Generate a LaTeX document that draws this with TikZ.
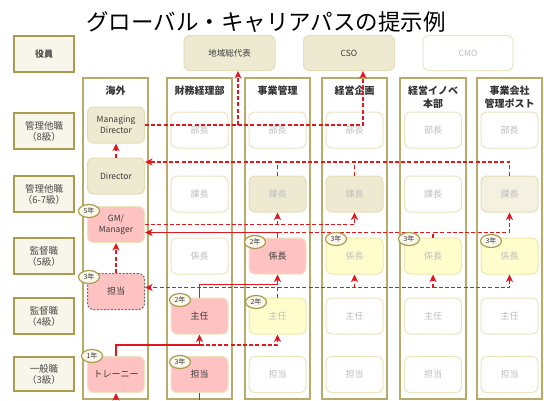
\documentclass[tikz,border=0pt]{standalone}
\usepackage{fontspec}
\setmainfont{Noto Sans CJK JP}
\usepackage{tikz}
\usetikzlibrary{arrows.meta,shapes.geometric}

\definecolor{gradeline}{HTML}{A99C4E}
\definecolor{gradefill}{HTML}{F8F6EA}
\definecolor{gradetext}{HTML}{4A4A4A}
\definecolor{deptline}{HTML}{B6AB6A}
\definecolor{headtext}{HTML}{333333}
\definecolor{postline}{HTML}{ECE4BF}
\definecolor{offtext}{HTML}{BDBDBD}
\definecolor{ontext}{HTML}{3A3A3A}
\definecolor{onfill}{HTML}{FFC2C2}
\definecolor{beigefill}{HTML}{EEEAD2}
\definecolor{beigeline}{HTML}{E5DDB6}
\definecolor{lbeigefill}{HTML}{F4F1E0}
\definecolor{yelfill}{HTML}{FFFDCB}
\definecolor{yelline}{HTML}{EEE7AE}
\definecolor{badgefill}{HTML}{FBF9EE}
\definecolor{pathred}{HTML}{E3161E}
\definecolor{dashgray}{HTML}{6E6E6E}

\begin{document}
\begin{tikzpicture}[x=1pt,y=-1pt,
    grade/.style={draw=gradeline, line width=1.8pt, fill=gradefill, minimum width=60pt, minimum height=36pt, align=center, text=gradetext, font=\fontsize{9.5}{11}\selectfont},
    dept/.style={draw=deptline, line width=1.8pt, fill=white},
    depthead/.style={font=\bfseries\fontsize{10}{12.5}\selectfont, text=headtext, align=center},
    post/.style={draw=postline, line width=1pt, rounded corners=6pt, minimum width=57pt, minimum height=36pt, align=center, inner sep=1pt, font=\fontsize{9}{11}\selectfont},
    postOff/.style={post, fill=white, text=offtext},
    postOn/.style={post, fill=onfill, text=ontext},
    postBeige/.style={post, fill=beigefill, draw=beigeline, text=offtext},
    postYel/.style={post, fill=yelfill, draw=yelline, text=offtext},
    badge/.style={ellipse, draw=gradeline, line width=1.2pt, fill=badgefill, inner sep=0pt, minimum width=21pt, minimum height=13pt, text=ontext, font=\fontsize{7}{8}\selectfont},
    act/.style={draw=pathred, line width=1.3pt, -{Stealth[length=7.5pt,width=7pt,inset=2pt]}},
    actline/.style={draw=pathred, line width=1.3pt},
    alt/.style={act, dash pattern=on 4pt off 2.2pt},
    altline/.style={actline, dash pattern=on 4pt off 2.2pt},
  ]
    \useasboundingbox (0,0) rectangle (544,400);

    % Title
    \node[font=\fontsize{22.5}{24}\selectfont] (title) at (266,22) {グローバル・キャリアパスの提示例};

    % Grade labels
    \node[grade, font=\bfseries\fontsize{9}{11}\selectfont] (gYakuin) at (44,54) {役員};
    \node[grade] (g8) at (44,131) {管理他職\\（8級）};
    \node[grade] (g67) at (44,194) {管理他職\\（6-7級）};
    \node[grade] (g5) at (44,256) {監督職\\（5級）};
    \node[grade] (g4) at (44,316) {監督職\\（4級）};
    \node[grade, minimum height=34pt] (g3) at (44,374) {一般職\\（3級）};

    % Executive posts
    \node[postBeige, minimum width=91pt, minimum height=35pt, text=ontext, font=\fontsize{8.5}{10}\selectfont] (chiiki) at (229.5,53) {地域総代表};
    \node[postBeige, minimum width=91pt, minimum height=35pt, text=ontext, font=\fontsize{8.5}{10}\selectfont] (cso) at (349,53) {CSO};
    \node[postOff, minimum width=90pt, minimum height=35pt, font=\fontsize{8.5}{10}\selectfont] (cmo) at (468,53) {CMO};

    % Department columns
    \draw[dept] (83,78) rectangle (148,399);
    \draw[dept] (167,78) rectangle (232,399);
    \draw[dept] (245,78) rectangle (310,399);
    \draw[dept] (322,78) rectangle (387,399);
    \draw[dept] (400,78) rectangle (466,399);
    \draw[dept] (477,78) rectangle (542,399);

    \node[depthead] (hKaigai) at (115.5,91) {海外};
    \node[depthead] (hZaimu) at (199.5,91) {財務経理部};
    \node[depthead] (hJigyo) at (277.5,91) {事業管理};
    \node[depthead] (hKikaku) at (354.5,91) {経営企画};
    \node[depthead] (hInno) at (433,97) {経営イノベ\\本部};
    \node[depthead] (hKaisha) at (509.5,97) {事業会社\\管理ポスト};

    % Overseas
    \node[postBeige, text=ontext, font=\fontsize{8.5}{10.5}\selectfont] (kaigaiMD) at (116,125) {Managing\\Director};
    \node[postBeige, text=ontext, font=\fontsize{8.5}{10.5}\selectfont] (kaigaiDir) at (116,176) {Director};
    \node[postOn, font=\fontsize{8.5}{10.5}\selectfont] (kaigaiGM) at (116,224.5) {GM/\\Manager};
    \node[postOn, draw=dashgray, dash pattern=on 2pt off 1.5pt] (kaigaiTan) at (116,291.5) {担当};
    \node[postOn] (kaigaiTr) at (116,374.5) {トレーニー};

    % Finance
    \node[postOff] (zaimuBu) at (199.5,130) {部長};
    \node[postOff] (zaimuKa) at (199.5,194) {課長};
    \node[postOff] (zaimuKakari) at (199.5,256) {係長};
    \node[postOn] (zaimuShu) at (199.5,316) {主任};
    \node[postOn] (zaimuTan) at (199.5,374.5) {担当};

    % Business control
    \node[postOff] (jigyoBu) at (277.5,130) {部長};
    \node[postBeige] (jigyoKa) at (277.5,194) {課長};
    \node[postOn] (jigyoKakari) at (277.5,256) {係長};
    \node[postYel] (jigyoShu) at (277.5,316) {主任};
    \node[postOff] (jigyoTan) at (277.5,374.5) {担当};

    % Corporate planning
    \node[postOff] (kikakuBu) at (354.5,130) {部長};
    \node[postBeige] (kikakuKa) at (354.5,194) {課長};
    \node[postYel] (kikakuKakari) at (354.5,256) {係長};
    \node[postOff] (kikakuShu) at (354.5,316) {主任};
    \node[postOff] (kikakuTan) at (354.5,374.5) {担当};

    % Innovation
    \node[postOff] (innoBu) at (433,130) {部長};
    \node[postOff] (innoKa) at (433,194) {課長};
    \node[postYel] (innoKakari) at (433,256) {係長};
    \node[postOff] (innoShu) at (433,316) {主任};
    \node[postOff] (innoTan) at (433,374.5) {担当};

    % Group companies
    \node[postOff] (kaishaBu) at (509.5,130) {部長};
    \node[postBeige, fill=lbeigefill] (kaishaKa) at (509.5,194) {課長};
    \node[postYel] (kaishaKakari) at (509.5,256) {係長};
    \node[postOff] (kaishaShu) at (509.5,316) {主任};
    \node[postOff] (kaishaTan) at (509.5,374.5) {担当};

    % Helper points
    \coordinate (toChiiki) at ([xshift=8.5pt]chiiki.south);
    \coordinate (toCso) at ([xshift=14pt]cso.south);
    \coordinate (dirIn) at ([yshift=14pt]kaigaiDir.east);
    \coordinate (gmIn) at ([yshift=-8pt]kaigaiGM.east);
    \coordinate (tanIn) at ([yshift=4pt]kaigaiTan.east);
    \coordinate (trUp) at ([yshift=11pt]kaigaiTr.north);
    \coordinate (bottom) at (116,400);

    % Paths to the executive posts
    \draw[alt] (kaigaiMD.east) -| (toCso);
    \draw[alt] (toChiiki |- kaigaiMD.east) -- (toChiiki);
    \draw[alt] (kaigaiDir.north) -- (kaigaiMD.south);

    % Section manager row to Director
    \draw[alt] (jigyoKa.north) |- (dirIn);
    \draw[altline] (kaishaKa.north) |- (dirIn -| jigyoKa.north);
    \draw[altline] (kikakuKa.north) -- (kikakuKa.north |- dirIn);

    % GM/Manager to section managers
    \draw[alt] (kaigaiGM.east) -| (kikakuKa.south);
    \draw[alt] (kaigaiGM.east -| jigyoKa.south) -- (jigyoKa.south);

    % Chief row
    \draw[act] (jigyoKakari.north) |- (gmIn);
    \draw[altline] (jigyoKakari.north |- gmIn) -- (gmIn -| innoKakari.north);
    \draw[alt] (innoKakari.north) |- (gmIn -| kaishaKa.south) -- (kaishaKa.south);
    \draw[alt] (kaigaiTan.north) -- (kaigaiGM.south);

    % Assistant manager row
    \draw[act] (zaimuShu.north) -- ++(0,-13) -| (jigyoKakari.south);
    \draw[alt] (jigyoShu.north) |- (tanIn);
    \draw[alt] (jigyoShu.north |- tanIn) -| (kaishaKakari.south);
    \draw[alt] (kikakuKakari.south |- tanIn) -- (kikakuKakari.south);
    \draw[alt] (innoKakari.south |- tanIn) -- (innoKakari.south);

    % Trainee row
    \draw[act] (kaigaiTr.north) -- (trUp) -| (zaimuShu.south);
    \draw[alt] (trUp -| zaimuShu.south) -| (jigyoShu.south);
    \draw[act] (bottom) -- (kaigaiTr.south);
    \draw[actline] (zaimuTan.south) -- (zaimuTan.south |- bottom);

    % Years in post
    \node[badge] (y5) at (89,211) {5年};
    \node[badge] (y3a) at (89,277) {3年};
    \node[badge] (y1) at (92,356) {1年};
    \node[badge] (y2a) at (180,300) {2年};
    \node[badge] (y3b) at (180,362) {3年};
    \node[badge] (y2b) at (255,242) {2年};
    \node[badge] (y2c) at (256,302) {2年};
    \node[badge] (y3c) at (336,239) {3年};
    \node[badge] (y3d) at (409,239) {3年};
    \node[badge] (y3e) at (491,241) {3年};
\end{tikzpicture}
\end{document}
